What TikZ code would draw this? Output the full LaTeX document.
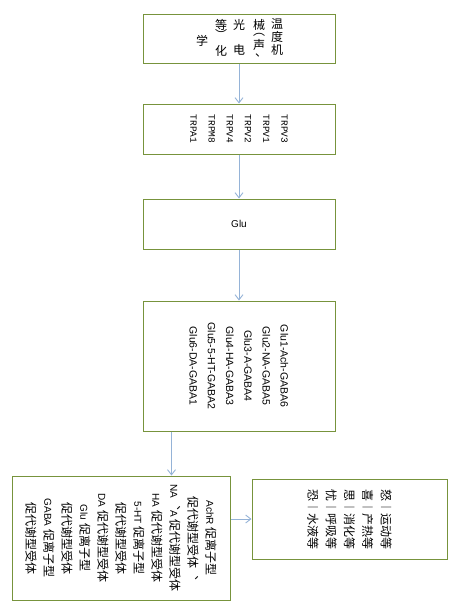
\documentclass[tikz,border=0pt]{standalone}
\usepackage{fontspec}
\usepackage{tikz}
\usetikzlibrary{arrows.meta, positioning}
\setmainfont{Liberation Sans}
\newfontfamily\cjk{Noto Sans CJK SC}
\newfontfamily\cjkv[Vertical=RotatedGlyphs]{Noto Sans CJK SC}
\newfontfamily\lat{Liberation Sans}
\newfontfamily\mono{Liberation Mono}
\newcommand{\la}[1]{{\lat\fontsize{10}{18}\selectfont #1}}
\definecolor{boxc}{RGB}{119,147,60}
\definecolor{arrc}{RGB}{149,179,215}

\begin{document}
\begin{tikzpicture}[x=1pt, y=-1pt,
    box/.style={draw=boxc, line width=1pt, minimum width=192pt, inner sep=0pt},
    vtxt/.style={rotate=-90, inner sep=0pt, align=center},
    arr/.style={-{Straight Barb[length=1.8mm, width=2.8mm]}, arrc, line width=0.9pt}]
  \useasboundingbox (0,0) rectangle (469,616);
  \node[box, minimum height=49pt] (b1) at (239,38.5) {};
  \node[box, minimum height=50pt, below=40pt of b1] (b2) {};
  \node[box, minimum height=50pt, below=44pt of b2] (b3) {};
  \node[box, minimum height=130pt, below=51pt of b3] (b4) {};
  \node[box, minimum width=218pt, minimum height=124pt] (b5) at (121,538) {};
  \node[box, minimum width=195pt, minimum height=80pt] (b6) at (349.5,519) {};
  % stimuli, one glyph at a time
  \foreach \ch/\x/\y [count=\i] in {温/277/24, 度/277/37, 机/277/50, 械/259/25,
      ︵/259/35, 声/259/45, 、/261/55, 光/239/25, 电/239/50, 等/221/25,
      ︶/221/34, 化/221/51, 学/202/41}
    \node[font=\cjk\fontsize{12}{12}\selectfont, inner sep=0pt] (c\i) at (\x,\y) {\ch};
  \node[vtxt, align=left, font=\mono\fontsize{9.5}{18.2}\selectfont] (t2) at (b2)
    {TRPV3\\TRPV1\\TRPV2\\TRPV4\\TRPM8\\TRPA1};
  \node[font=\lat\fontsize{10}{12}\selectfont] (t3) at (b3) {Glu};
  \node[vtxt, font=\lat\fontsize{10.5}{18.2}\selectfont] (t4) at (b4)
    {Glu1-Ach-GABA6\\Glu2-NA-GABA5\\Glu3-A-GABA4\\Glu4-HA-GABA3\\Glu5-5-HT-GABA2\\Glu6-DA-GABA1};
  \node[vtxt, font=\cjkv\fontsize{12}{18}\selectfont] (t5) at (b5)
    {\la{AchR\ }促离子型\\促代谢型受体、\\\la{NA}、\la{A\ }促代谢型受体\\\la{HA\ }促代谢型受体\\
     \la{5-HT\ }促离子型\\促代谢型受体\\\la{DA\ }促代谢型受体\\\la{Glu\ }促离子型\\
     促代谢型受体\\\la{GABA\ }促离子型\\促代谢型受体};
  \node[vtxt, font=\cjkv\fontsize{12}{18.3}\selectfont] (t6) at (b6)
    {怒︱运动等\\喜︱产热等\\思︱消化等\\忧︱呼吸等\\恐︱水液等};
  \draw[arr] (b1) -- (b2);
  \draw[arr] (b2) -- (b3);
  \draw[arr] (b3) -- (b4);
  \coordinate (k) at ([xshift=29pt]b4.south west);
  \draw[arr] (k) -- (k |- b5.north);
  \draw[arr] (b5.east |- b6.west) -- (b6.west);
\end{tikzpicture}
\end{document}
